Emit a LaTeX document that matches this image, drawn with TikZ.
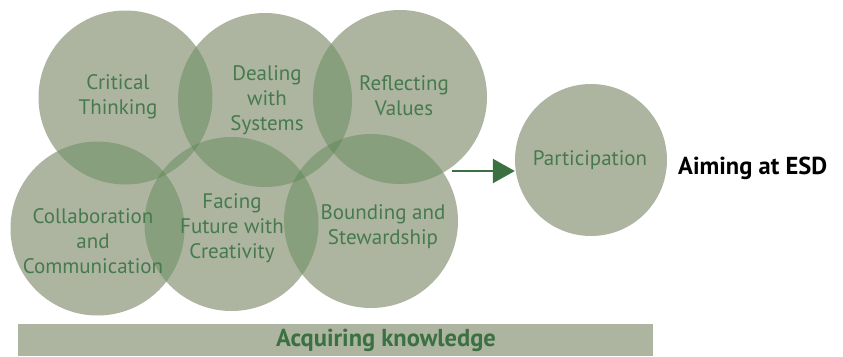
\documentclass[tikz,border=0pt]{standalone}
\usepackage{fontspec}
\setmainfont{PT Sans}
\usetikzlibrary{arrows.meta}
\definecolor{onefill}{RGB}{173,181,161}
\definecolor{twofill}{RGB}{135,159,124}
\definecolor{threefill}{RGB}{114,146,105}
\definecolor{txtgreen}{RGB}{70,122,78}
\definecolor{arrgreen}{RGB}{58,112,66}
\tikzset{
  bubble/.style={circle, draw=none, fill=onefill, inner sep=0pt, minimum size=174pt},
  lbl/.style={text=txtgreen, align=center, font=\fontsize{21}{25}\selectfont, inner sep=0pt},
  boldlbl/.style={font=\fontsize{24.5}{28}\bfseries\selectfont, inner sep=0pt},
  arr/.style={draw=arrgreen, line width=2.6pt, -{Triangle[length=22pt,width=24pt]}},
}
\newcommand{\lensfill}[2]{\begin{scope}\clip (#1.center) circle (87pt);\fill[fill=twofill] (#2.center) circle (87pt);\end{scope}}
\newcommand{\trifill}[3]{\begin{scope}\clip (#1.center) circle (87pt);\clip (#2.center) circle (87pt);\fill[fill=threefill] (#3.center) circle (87pt);\end{scope}}
\begin{document}
\begin{tikzpicture}[x=1pt,y=-1pt]
\useasboundingbox (0,0) rectangle (843,356);
% bar
\fill[fill=onefill] (18,324) rectangle (653,356);
% circles
\node[bubble] (ct) at (125.5,97.5) {};
\node[bubble] (ds) at (265,100) {};
\node[bubble] (rv) at (400,97) {};
\node[bubble] (cc) at (97.5,228.5) {};
\node[bubble] (ff) at (231.5,224) {};
\node[bubble] (bs) at (371,221) {};
\node[bubble, minimum size=152pt] (pa) at (591,160) {};
% overlaps
\lensfill{ct}{ds}
\lensfill{ds}{rv}
\lensfill{ct}{cc}
\lensfill{ct}{ff}
\lensfill{ds}{ff}
\lensfill{ds}{bs}
\lensfill{rv}{bs}
\lensfill{cc}{ff}
\lensfill{ff}{bs}
\trifill{ct}{ds}{ff}
\trifill{ds}{ff}{bs}
\trifill{ds}{rv}{bs}
\trifill{ct}{cc}{ff}
% labels
\node[lbl] (tct) at (118,97) {Critical\\Thinking};
\node[lbl] (tds) at (267,100) {Dealing\\with\\Systems};
\node[lbl] (trv) at (404,96) {Reflecting\\Values};
\node[lbl] (tcc) at (93,241) {Collaboration\\and\\Communication};
\node[lbl] (tff) at (232,228) {Facing\\Future with\\Creativity};
\node[lbl] (tbs) at (383,227) {Bounding and\\Stewardship};
\node[lbl] (tpa) at (590,160) {Participation};
\node[boldlbl, anchor=west] (aim) at (678,168) {Aiming at ESD};
\node[boldlbl, text=arrgreen] (acq) at (386,340) {Acquiring knowledge};
% arrow
\coordinate (as) at (452,171);
\draw[arr] (as) -- (as -| pa.west);
\end{tikzpicture}
\end{document}
